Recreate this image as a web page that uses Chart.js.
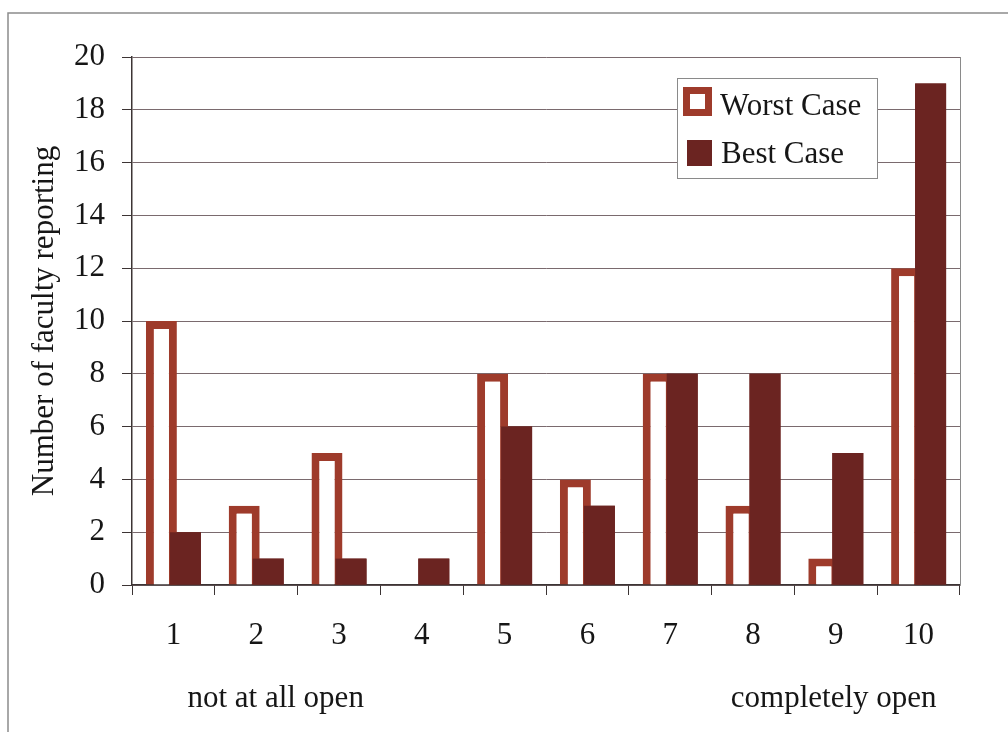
<!DOCTYPE html>
<html>
<head>
<meta charset="utf-8">
<title>Number of faculty reporting</title>
<script src="https://cdn.jsdelivr.net/npm/chart.js@4.4.1/dist/chart.umd.min.js"></script>
<style>
    html, body { margin: 0; padding: 0; background: #ffffff; }
    #chartBox { position: relative; width: 1008px; height: 732px; }
</style>
</head>
<body>
<div id="chartBox"><canvas id="facultyBarChart"></canvas></div>
<script>
// Data
var categories = ['1', '2', '3', '4', '5', '6', '7', '8', '9', '10'];
var worstCaseCounts = [10, 3, 5, 0, 8, 4, 8, 3, 1, 12];
var bestCaseCounts = [2, 1, 1, 1, 6, 3, 8, 8, 5, 19];
var seriesLabels = ['Worst Case', 'Best Case'];
var yAxisMax = 20;
var yAxisStep = 2;
var yAxisTitle = 'Number of faculty reporting';
var scaleEndLabels = ['not at all open', 'completely open'];

var worstColor = '#9e3b2b';
var bestColor = '#6b2421';
var textColor = '#161616';
var axisColor = '#3c3434';
var gridColor = '#7a6a6e';
var serifFont = "'Liberation Serif', 'Times New Roman', serif";
var labelFont = { family: serifFont, size: 31 };

function initChart() {
    var chartControl = document.getElementById('facultyBarChart');

    // Excel style extras: frame, plot border, legend box, end labels
    var decorPlugin = {
        id: 'decor',
        beforeDraw: function (chart) {
            var ctx = chart.ctx;
            ctx.save();
            ctx.fillStyle = '#ffffff';
            ctx.fillRect(0, 0, chart.width, chart.height);
            ctx.strokeStyle = '#8c8c8c';
            ctx.lineWidth = 1.5;
            ctx.strokeRect(8, 13, chart.width + 40, chart.height + 40);
            ctx.restore();
        },
        afterDatasetsDraw: function (chart) {
            //Best case bars sit on top of the worst case outline.
            chart.getDatasetMeta(1).controller.draw();

            var ctx = chart.ctx;
            var area = chart.chartArea;
            ctx.save();

            //Right edge of the plot area.
            ctx.strokeStyle = '#8a8a8a';
            ctx.lineWidth = 1;
            ctx.beginPath();
            ctx.moveTo(area.right + 0.5, area.top);
            ctx.lineTo(area.right + 0.5, area.bottom);
            ctx.stroke();

            //Legend box inside the plot area.
            var boxLeft = area.right - 283;
            var boxTop = area.top + 21;
            ctx.fillStyle = '#ffffff';
            ctx.fillRect(boxLeft, boxTop, 200, 100);
            ctx.strokeStyle = '#8a8a8a';
            ctx.strokeRect(boxLeft + 0.5, boxTop + 0.5, 200, 100);

            ctx.fillStyle = worstColor;
            ctx.fillRect(boxLeft + 6, boxTop + 9, 29, 29);
            ctx.fillStyle = '#ffffff';
            ctx.fillRect(boxLeft + 13, boxTop + 16, 15, 15);
            ctx.fillStyle = bestColor;
            ctx.fillRect(boxLeft + 10, boxTop + 62, 25, 26);

            ctx.font = labelFont.size + 'px ' + serifFont;
            ctx.fillStyle = textColor;
            ctx.textBaseline = 'alphabetic';
            ctx.textAlign = 'left';
            ctx.fillText(seriesLabels[0], boxLeft + 43, boxTop + 37);
            ctx.fillText(seriesLabels[1], boxLeft + 44, boxTop + 85);

            //Labels for the two ends of the scale.
            var xScale = chart.scales.x;
            ctx.fillText(scaleEndLabels[0], xScale.getPixelForValue(0) + 14, area.bottom + 122);
            ctx.textAlign = 'right';
            ctx.fillText(scaleEndLabels[1], xScale.getPixelForValue(categories.length - 1) + 18, area.bottom + 122);

            ctx.restore();
        }
    };

    var facultyBarChart = new Chart(chartControl, {
        type: 'bar',
        data: {
            labels: categories,
            datasets: [
                {
                    label: seriesLabels[0],
                    data: worstCaseCounts,
                    backgroundColor: '#ffffff',
                    borderColor: worstColor,
                    borderWidth: 8,
                    categoryPercentage: 0.58,
                    barPercentage: 1.29
                },
                {
                    label: seriesLabels[1],
                    data: bestCaseCounts,
                    backgroundColor: bestColor,
                    borderColor: bestColor,
                    borderWidth: 0,
                    categoryPercentage: 0.58,
                    barPercentage: 1.29
                }
            ]
        },
        options: {
            animation: false,
            responsive: true,
            maintainAspectRatio: false,
            layout: {
                padding: { top: 57, right: 48, bottom: 0, left: 0 }
            },
            scales: {
                y: {
                    min: 0,
                    max: yAxisMax,
                    ticks: {
                        stepSize: yAxisStep,
                        font: labelFont,
                        color: textColor,
                        padding: 17
                    },
                    grid: {
                        color: gridColor,
                        lineWidth: 1,
                        tickLength: 10,
                        tickColor: axisColor
                    },
                    border: {
                        color: axisColor,
                        width: 1.5
                    },
                    title: {
                        display: true,
                        text: yAxisTitle,
                        font: labelFont,
                        color: textColor,
                        padding: { top: 26, bottom: 0 }
                    },
                    afterFit: function (scale) {
                        scale.width = 132;
                    }
                },
                x: {
                    ticks: {
                        font: labelFont,
                        color: textColor,
                        padding: 22
                    },
                    grid: {
                        offset: true,
                        drawOnChartArea: false,
                        drawTicks: true,
                        tickLength: 10,
                        tickColor: axisColor
                    },
                    border: {
                        color: axisColor,
                        width: 1.5
                    },
                    afterFit: function (scale) {
                        scale.height = 147;
                    }
                }
            },
            plugins: {
                legend: {
                    display: false
                },
                tooltip: {
                    enabled: false
                }
            }
        },
        plugins: [decorPlugin]
    });
}

initChart();
</script>
</body>
</html>
